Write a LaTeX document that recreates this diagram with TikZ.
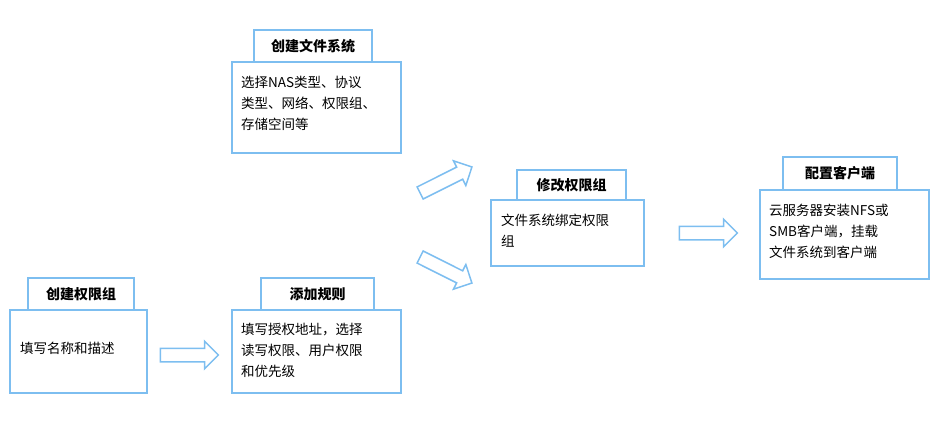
\documentclass[tikz,border=0pt]{standalone}
\usepackage{fontspec}
\setmainfont{Noto Sans CJK SC}
\usetikzlibrary{shapes.arrows}
\definecolor{bl}{RGB}{125,190,240}
\begin{document}
\begin{tikzpicture}[x=1pt,y=-1pt,
  box/.style={draw=bl,line width=1.5pt,fill=white},
  ttl/.style={font=\fontsize{14}{16}\selectfont\bfseries},
  txt/.style={font=\fontsize{13.5}{21}\selectfont,align=left,anchor=north west,inner sep=0},
  arr/.style={single arrow,draw=bl,line width=1.5pt,fill=white,minimum height=58pt,inner ysep=6pt,inner xsep=0pt,single arrow head extend=7pt}]
\useasboundingbox (0,0) rectangle (940,429);
% create fs
\draw[box] (232,62) rectangle (401,153);
\draw[box] (254,30) rectangle (372,62);
\node[ttl] (t1) at (313,46) {创建文件系统};
\node[txt] (b1) at (241,76) {选择NAS类型、协议\\类型、网络、权限组、\\存储空间等};
% modify
\draw[box] (491,200) rectangle (644,266);
\draw[box] (517,170) rectangle (626,200);
\node[ttl] (t2) at (571.5,185) {修改权限组};
\node[txt] (b2) at (501,214) {文件系统绑定权限\\组};
% client
\draw[box] (760,190) rectangle (929,279);
\draw[box] (783,157) rectangle (897,190);
\node[ttl] (t3) at (840,173.5) {配置客户端};
\node[txt] (b3) at (769,204) {云服务器安装NFS或\\SMB客户端，挂载\\文件系统到客户端};
% create group
\draw[box] (10,310) rectangle (147,393);
\draw[box] (28,278) rectangle (134,310);
\node[ttl] (t4) at (81,294) {创建权限组};
\node[txt] (b4) at (20,342) {填写名称和描述};
% rules
\draw[box] (232,310) rectangle (401,393);
\draw[box] (261,278) rectangle (374,310);
\node[ttl] (t5) at (317.5,294) {添加规则};
\node[txt] (b5) at (241,323) {填写授权地址，选择\\读写权限、用户权限\\和优先级};
% arrows
\node[arr,rotate=26.6] (a1) at (443,181.5) {};
\node[arr,rotate=-26.6] (a2) at (443,268.5) {};
\node[arr] (a3) at (705,233) {};
\node[arr] (a4) at (186,355) {};
\end{tikzpicture}
\end{document}
